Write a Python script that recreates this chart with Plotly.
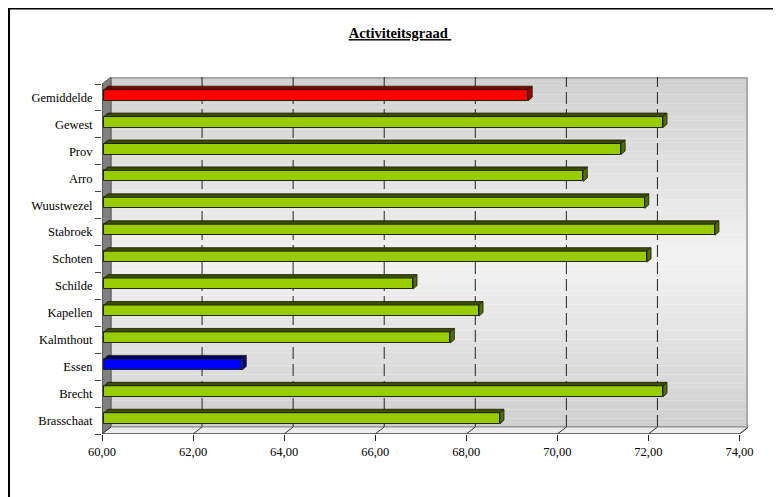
import plotly.graph_objects as go

# ---------------- data ----------------
categories = ["Brasschaat", "Brecht", "Essen", "Kalmthout", "Kapellen", "Schilde",
              "Schoten", "Stabroek", "Wuustwezel", "Arro", "Prov", "Gewest", "Gemiddelde"]
values = [68.74, 72.32, 63.08, 67.65, 68.28, 66.83,
          71.97, 73.46, 71.92, 70.57, 71.40, 72.32, 69.36]
x_tick_values = [60, 62, 64, 66, 68, 70, 72, 74]
x_tick_labels = ["60,00", "62,00", "64,00", "66,00", "68,00", "70,00", "72,00", "74,00"]
title_text = "Activiteitsgraad"

# ---------------- style / geometry ----------------
W, H = 781, 497
OFF = 8                                       # page body margin
PL, PR, PT, PB = 102 - OFF, 748 - OFF, 77 - OFF, 434 - OFF   # plot-area pixel edges (figure coords)
X_MIN, X_FRONT_MAX = 60, 74
PX = (739.5 - 102) / (X_FRONT_MAX - X_MIN)    # px per x unit
n = len(categories)
PY = (434 - 84) / n                           # px per category
x_max = X_MIN + (PR - PL) / PX
y_min = -0.5
y_max = y_min + (PB - PT) / PY
y_front_top = n - 0.5

dxw, dyw = 9 / PX, 7 / PY                    # wall depth
bar_base = X_MIN + 2 / PX
bar_h = 11 / PY
bar_shift = 2.3 / PY
dxb, dyb = 4 / PX, 3.5 / PY                  # bar depth

GREEN, GREEN_TOP, GREEN_SIDE = "#99cc00", "#3a4d00", "#526e00"
special = {"Gemiddelde": ("#ff0000", "#7a0000", "#a00000"),
           "Essen": ("#0000ff", "#00005c", "#000090")}

face_cols, top_cols, side_cols = [], [], []
for c in categories:
    f, t, s = special.get(c, (GREEN, GREEN_TOP, GREEN_SIDE))
    face_cols.append(f); top_cols.append(t); side_cols.append(s)

positions = list(range(n))

shapes = []

# back wall gradient
wall_x0, wall_y0 = X_MIN + dxw, y_min + dyw
N = 80
def grey_at(py):
    # reference page pixel y -> grey level
    if py <= 262:
        f = (py - 77) / (262 - 77)
        return 208 + f * (242 - 208)
    f = (py - 262) / (427 - 262)
    return 242 + f * (207 - 242)
for i in range(N):
    ya = wall_y0 + (y_max - wall_y0) * i / N
    yb = wall_y0 + (y_max - wall_y0) * (i + 1) / N
    ymid = (ya + yb) / 2
    py = 434 - (ymid - y_min) * PY
    g = int(round(grey_at(py)))
    shapes.append(dict(type="rect", xref="x", yref="y", x0=wall_x0, x1=x_max,
                       y0=ya, y1=yb + 0.002, fillcolor=f"rgb({g},{g},{g})",
                       line=dict(width=0), layer="below"))
# wall border
shapes.append(dict(type="rect", xref="x", yref="y", x0=wall_x0, x1=x_max - 1 / PX,
                   y0=wall_y0, y1=y_max - 1 / PY, line=dict(color="#9a9a9a", width=1.5),
                   fillcolor="rgba(0,0,0,0)", layer="below"))
# back-wall gridlines
for t in x_tick_values[1:-1]:
    shapes.append(dict(type="line", xref="x", yref="y", x0=t + dxw, x1=t + dxw,
                       y0=wall_y0, y1=y_max, line=dict(color="#222", width=1, dash="12px,5px"),
                       layer="below"))
# side wall
shapes.append(dict(type="path", xref="x", yref="y",
                   path=f"M {X_MIN},{y_min} L {X_MIN + dxw},{wall_y0} L {X_MIN + dxw},{y_max} "
                        f"L {X_MIN},{y_front_top} Z",
                   fillcolor="#808080", line=dict(color="#5a5a5a", width=1), layer="below"))
# floor
shapes.append(dict(type="path", xref="x", yref="y",
                   path=f"M {X_MIN},{y_min} L {X_FRONT_MAX},{y_min} L {X_FRONT_MAX + dxw},{wall_y0} "
                        f"L {X_MIN + dxw},{wall_y0} Z",
                   fillcolor="#ececec", line=dict(color="#8a8a8a", width=1), layer="below"))
# floor diagonals
for t in x_tick_values:
    shapes.append(dict(type="line", xref="x", yref="y", x0=t, x1=t + dxw,
                       y0=y_min, y1=wall_y0, line=dict(color="#333", width=1), layer="below"))
# front axis lines
shapes.append(dict(type="line", xref="x", yref="y", x0=X_MIN, x1=X_FRONT_MAX,
                   y0=y_min, y1=y_min, line=dict(color="#222", width=1)))
shapes.append(dict(type="line", xref="x", yref="y", x0=X_MIN, x1=X_MIN,
                   y0=y_min, y1=y_front_top, line=dict(color="#444", width=1)))

# bar top & side faces
for p, v, tc, sc in zip(positions, values, top_cols, side_cols):
    top = p + bar_shift + bar_h / 2
    bot = p + bar_shift - bar_h / 2
    shapes.append(dict(type="path", xref="x", yref="y",
                       path=f"M {bar_base},{top} L {bar_base + dxb},{top + dyb} "
                            f"L {v + dxb},{top + dyb} L {v},{top} Z",
                       fillcolor=tc, line=dict(color="#1a1a00", width=0.8), layer="above"))
    shapes.append(dict(type="path", xref="x", yref="y",
                       path=f"M {v},{bot} L {v},{top} L {v + dxb},{top + dyb} "
                            f"L {v + dxb},{bot + dyb} Z",
                       fillcolor=sc, line=dict(color="#1a1a00", width=0.8), layer="above"))

# outer frame (figure pixel -> paper)
def paper_x(px):
    return (px - PL) / (PR - PL)
def paper_y(py):
    return (PB - py) / (PB - PT)
shapes.append(dict(type="rect", xref="paper", yref="paper",
                   x0=paper_x(0.5), x1=paper_x(800), y0=paper_y(520), y1=paper_y(0),
                   line=dict(color="black", width=3), fillcolor="rgba(0,0,0,0)"))

fig = go.Figure()
fig.add_trace(go.Bar(
    orientation="h",
    y=positions,
    x=[v - bar_base for v in values],
    base=[bar_base] * n,
    width=bar_h,
    offset=bar_shift - bar_h / 2,
    marker=dict(color=face_cols, line=dict(color="#1f2600", width=1)),
    hoverinfo="skip",
))

fig.update_layout(
    width=W, height=H,
    margin=dict(l=PL, r=W - PR, t=PT, b=H - PB, pad=0, autoexpand=False),
    paper_bgcolor="white", plot_bgcolor="rgba(0,0,0,0)",
    showlegend=False,
    font=dict(family="Liberation Serif, Times New Roman, serif", color="black", size=12),
    shapes=shapes,
    title=dict(text=f"<b><u>{title_text}\u00a0</u></b>", x=(400 - OFF) / W, y=1 - (33 - OFF) / H,
               xanchor="center", yanchor="middle", xref="container", yref="container",
               font=dict(size=14.5, family="Liberation Serif", color="black")),
    bargap=0,
)
fig.update_xaxes(range=[X_MIN, x_max], tickvals=x_tick_values, ticktext=x_tick_labels,
                 ticks="outside", ticklen=6, tickcolor="#222", showgrid=False,
                 zeroline=False, showline=False, tickfont=dict(size=12.5), fixedrange=True)
fig.update_yaxes(range=[y_min, y_max], tickvals=positions, ticktext=categories,
                 ticks="outside", ticklen=6, tickcolor="rgba(0,0,0,0)", showgrid=False,
                 zeroline=False, showline=False, tickfont=dict(size=12.5), fixedrange=True,
                 minor=dict(tickvals=[i - 0.5 for i in range(n + 1)], ticks="outside",
                            ticklen=6, tickcolor="#444", showgrid=False))

fig.write_html("out.html")
